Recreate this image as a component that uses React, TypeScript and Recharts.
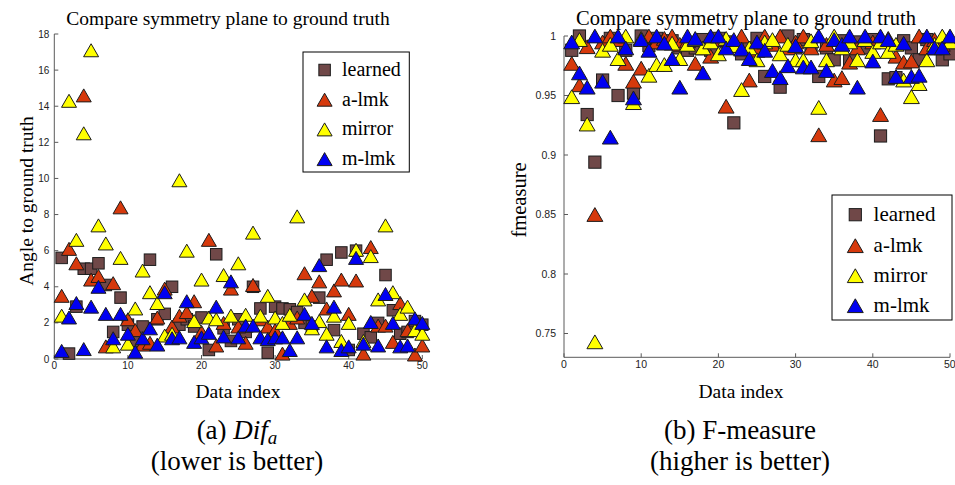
import React from 'react';
import { ScatterChart, Scatter, XAxis, YAxis } from 'recharts';

const dataIndex = [
  1, 2, 3, 4, 5, 6, 7, 8, 9, 10, 11, 12, 13, 14, 15, 16, 17, 18, 19, 20, 21, 22, 23, 24, 25,
  26, 27, 28, 29, 30, 31, 32, 33, 34, 35, 36, 37, 38, 39, 40, 41, 42, 43, 44, 45, 46, 47, 48, 49, 50,
];

const seriesNames = ['learned', 'a-lmk', 'mirror', 'm-lmk'];

// (a) angle to ground truth
const angleLearned = [
  5.6, 0.3, 2.9, 5.0, 5.0, 5.3, 4.1, 1.5, 3.4, 1.9, 1.0, 1.8, 5.5, 2.2, 2.5, 4.0, 1.9, 2.2, 1.8, 2.3, 0.5, 5.8, 1.7, 1.0, 2.2,
  1.5, 4.0, 2.8, 0.35, 2.9, 2.8, 2.75, 2.6, 2.0, 1.8, 3.4, 5.5, 1.6, 5.9, 0.5, 6.0, 1.4, 1.2, 2.0, 4.65, 2.7, 1.4, 1.5, 2.1, 1.9,
];
const angleALmk = [
  3.5, 6.1, 5.3, 14.6, 4.4, 4.6, 0.7, 4.2, 8.4, 2.2, 1.6, 0.8, 0.9, 2.3, 3.9, 1.8, 2.4, 2.6, 3.2, 1.5, 6.6, 0.75, 2.0, 3.9, 1.8,
  0.9, 4.1, 2.2, 1.8, 1.6, 0.3, 2.0, 2.3, 4.75, 3.5, 4.3, 2.8, 3.8, 4.4, 2.5, 4.35, 0.3, 6.2, 1.85, 1.85, 0.95, 3.1, 1.6, 0.25, 0.75,
];
const angleMirror = [
  2.4, 14.3, 6.6, 12.5, 17.1, 7.4, 6.4, 0.7, 5.6, 0.85, 2.8, 4.9, 3.7, 3.1, 1.3, 1.4, 9.9, 6.0, 2.1, 4.4, 2.3, 2.2, 4.65, 2.4, 5.3,
  2.45, 7.0, 2.4, 3.5, 2.3, 2.0, 2.45, 7.9, 3.3, 1.7, 2.1, 1.4, 2.4, 1.0, 2.0, 6.05, 1.0, 5.7, 3.3, 7.4, 3.7, 2.5, 2.9, 1.6, 1.4,
];
const angleMLmk = [
  0.45, 2.3, 3.1, 0.55, 2.9, 4.0, 2.5, 1.15, 2.5, 1.4, 0.4, 1.15, 1.7, 0.8, 3.7, 1.15, 1.2, 3.2, 0.95, 1.2, 1.45, 2.9, 1.25, 4.3, 1.2,
  1.85, 1.85, 1.2, 1.1, 1.2, 1.2, 0.5, 1.2, 2.5, 2.0, 5.2, 0.7, 2.9, 0.5, 0.7, 5.6, 0.85, 2.05, 0.75, 3.6, 2.0, 0.7, 0.75, 2.25, 2.0,
];

// (b) F-measure
const fmLearned = [
  0.988, 1.0, 0.934, 0.894, 0.963, 0.998, 0.95, 0.988, 0.952, 1.0, 0.992, 0.998, 0.995, 0.996, 0.99, 0.988, 0.99, 0.997, 0.988, 0.998,
  0.995, 0.927, 0.985, 0.99, 0.998, 0.966, 0.994, 0.957, 1.0, 0.99, 0.997, 0.992, 0.966, 0.99, 0.98, 0.996, 0.98, 0.995, 0.99, 0.997,
  0.916, 0.964, 0.965, 0.996, 0.99, 0.98, 0.997, 0.992, 0.98, 0.985,
];
const fmALmk = [
  0.977, 0.959, 0.991, 0.85, 0.995, 1.0, 0.997, 0.977, 0.962, 0.973, 1.0, 0.995, 0.998, 1.0, 0.993, 0.996, 0.977, 0.99, 0.983, 0.997,
  0.941, 0.995, 1.0, 0.963, 0.988, 1.0, 0.993, 1.0, 0.99, 0.995, 1.0, 0.99, 0.917, 0.993, 0.963, 0.965, 0.978, 0.99, 0.997, 0.995,
  0.934, 0.998, 0.983, 0.978, 0.979, 1.0, 0.99, 0.997, 0.993, 0.996,
];
const fmMirror = [
  0.949, 0.997, 0.926, 0.743, 0.988, 0.993, 0.981, 1.0, 0.944, 0.998, 0.967, 0.976, 0.976, 0.994, 0.981, 0.993, 0.997, 0.99, 0.995, 0.985,
  0.998, 0.992, 0.955, 0.99, 0.98, 0.995, 0.997, 0.985, 0.993, 0.98, 0.98, 0.996, 0.94, 0.98, 1.0, 0.99, 0.995, 0.98, 0.997, 0.987,
  0.995, 0.987, 0.993, 0.963, 0.949, 0.96, 0.98, 0.993, 1.0, 0.995,
];
const fmMLmk = [
  0.995, 0.969, 0.957, 1.0, 0.962, 0.915, 1.0, 0.99, 0.948, 0.997, 0.988, 1.0, 0.994, 0.981, 0.957, 1.0, 0.998, 0.969, 1.0, 1.0,
  0.99, 0.997, 0.989, 0.981, 0.995, 0.988, 0.971, 0.965, 0.975, 0.992, 0.974, 0.974, 1.0, 0.971, 0.997, 0.993, 1.0, 0.957, 1.0, 0.979,
  1.0, 0.997, 0.966, 0.994, 0.966, 0.967, 1.0, 0.99, 0.99, 1.0,
];

const xTicks = [0, 10, 20, 30, 40, 50];
const angleTicks = [0, 2, 4, 6, 8, 10, 12, 14, 16, 18];
const fmTicks = [0.75, 0.8, 0.85, 0.9, 0.95, 1];

const COLORS = ['#704848', '#d6390c', '#ffff00', '#0000f2'];
const SHAPES = ['square', 'triangle', 'triangle', 'triangle'];
const EDGE = '#1c1c1c';
const AXIS = '#5a5a5a';
const SERIF = '"Liberation Serif", "Times New Roman", serif';
const SANS = '"Liberation Sans", Arial, sans-serif';

const toPoints = (values: number[]) => values.map((v, i) => ({ x: dataIndex[i], y: v }));

const makeShape = (kind: string, fill: string, scale: number) => (props: any) => {
  const { cx, cy } = props;
  if (cx == null || cy == null) return <g />;
  if (kind === 'square') {
    const s = 11.5 * scale;
    return <rect x={cx - s / 2} y={cy - s / 2} width={s} height={s} fill={fill} stroke={EDGE} strokeWidth={1} />;
  }
  const w = 7.5 * scale;
  const h = 6.5 * scale;
  return (
    <polygon
      points={`${cx},${cy - h} ${cx - w},${cy + h} ${cx + w},${cy + h}`}
      fill={fill}
      stroke={EDGE}
      strokeWidth={1}
      strokeLinejoin="miter"
    />
  );
};

const Text = ({ x, baseline, size, children, italic }: any) => (
  <div
    style={{
      position: 'absolute',
      left: x,
      top: baseline - 0.8375 * size,
      transform: 'translateX(-50%)',
      fontFamily: SERIF,
      fontSize: size,
      lineHeight: `${size}px`,
      whiteSpace: 'nowrap',
      color: '#000',
      fontStyle: italic ? 'italic' : 'normal',
    }}
  >
    {children}
  </div>
);

const VText = ({ cx, cy, size, children }: any) => (
  <div
    style={{
      position: 'absolute',
      left: cx,
      top: cy,
      transform: 'translate(-50%, -50%) rotate(-90deg)',
      fontFamily: SERIF,
      fontSize: size,
      lineHeight: `${size}px`,
      whiteSpace: 'nowrap',
      color: '#000',
    }}
  >
    {children}
  </div>
);

const LegendBox = ({ left, top, width, height, markX, textX, rows, size, scale }: any) => (
  <svg width={width + 2} height={height + 2} style={{ position: 'absolute', left: left - 1, top: top - 1 }}>
    <rect x={1} y={1} width={width} height={height} fill="#fff" stroke="#000" strokeWidth={1} />
    {seriesNames.map((name, i) => {
      const Shape = makeShape(SHAPES[i], COLORS[i], scale);
      return (
        <g key={name}>
          <Shape cx={markX + 1} cy={rows[i] - 6 + 1} />
          <text x={textX + 1} y={rows[i] + 1} fontFamily={SERIF} fontSize={size} fill="#000">
            {name}
          </text>
        </g>
      );
    })}
  </svg>
);

const tickStyle = (size: number) => ({ fontSize: size, fill: '#222', fontFamily: SANS });

const Panel = ({ series, yDomain, yTicks, width, height, margin, yMargin, tickFont, scale }: any) => (
  <ScatterChart width={width} height={height} margin={margin}>
    <XAxis
      xAxisId="b"
      type="number"
      dataKey="x"
      domain={[0, 50]}
      ticks={xTicks}
      height={20}
      tickSize={-4}
      tickMargin={7}
      axisLine={{ stroke: AXIS }}
      tickLine={{ stroke: AXIS }}
      tick={tickStyle(tickFont)}
    />
    <XAxis
      xAxisId="t"
      orientation="top"
      type="number"
      domain={[0, 50]}
      ticks={xTicks}
      height={0}
      tickSize={-4}
      axisLine={{ stroke: AXIS }}
      tickLine={{ stroke: AXIS }}
      tick={false}
    />
    <YAxis
      yAxisId="l"
      type="number"
      dataKey="y"
      domain={yDomain}
      ticks={yTicks}
      width={40}
      tickSize={-4}
      tickMargin={yMargin}
      axisLine={{ stroke: AXIS }}
      tickLine={{ stroke: AXIS }}
      tick={tickStyle(tickFont)}
    />
    <YAxis
      yAxisId="r"
      orientation="right"
      type="number"
      domain={yDomain}
      ticks={yTicks}
      width={0}
      tickSize={-4}
      axisLine={{ stroke: AXIS }}
      tickLine={{ stroke: AXIS }}
      tick={false}
    />
    {series.map((values: number[], i: number) => (
      <Scatter
        key={seriesNames[i]}
        name={seriesNames[i]}
        xAxisId="b"
        yAxisId="l"
        data={toPoints(values)}
        shape={makeShape(SHAPES[i], COLORS[i], scale)}
        isAnimationActive={false}
      />
    ))}
  </ScatterChart>
);

export default function App() {
  return (
    <div style={{ position: 'absolute', left: 0, top: 0, width: 955, height: 485, background: '#fff', overflow: 'hidden' }}>
      <Text x={228} baseline={25} size={19.5}>Compare symmetry plane to ground truth</Text>
      <Text x={746} baseline={25} size={20.5}>Compare symmetry plane to ground truth</Text>
      <VText cx={26.5} cy={201} size={19.5}>Angle to ground truth</VText>
      <VText cx={518.6} cy={199.5} size={20.5}>fmeasure</VText>

      <div style={{ position: 'absolute', left: 0, top: 0 }}>
        <Panel
          series={[angleLearned, angleALmk, angleMirror, angleMLmk]}
          yDomain={[0, 18]}
          yTicks={angleTicks}
          width={440}
          height={400}
          margin={{ top: 34, right: 17.7, bottom: 21, left: 14.3 }}
          yMargin={9}
          tickFont={10}
          scale={1}
        />
      </div>
      <div style={{ position: 'absolute', left: 480, top: 0 }}>
        <Panel
          series={[fmLearned, fmALmk, fmMirror, fmMLmk]}
          yDomain={[0.73, 1]}
          yTicks={fmTicks}
          width={475}
          height={400}
          margin={{ top: 36, right: 5, bottom: 22.7, left: 44 }}
          yMargin={12}
          tickFont={10.5}
          scale={1.06}
        />
      </div>

      <LegendBox left={302.7} top={52} width={106.3} height={120} markX={21.6} textX={39} rows={[24, 53.7, 83.4, 113.1]} size={20} scale={1} />
      <LegendBox left={831.7} top={195} width={120} height={125} markX={23.3} textX={41.6} rows={[25.7, 56.7, 86.7, 116.7]} size={21} scale={1.06} />

      <Text x={238} baseline={398} size={19.5}>Data index</Text>
      <Text x={741} baseline={398} size={19.5}>Data index</Text>

      <Text x={237} baseline={440} size={27}>
        (a) <span style={{ fontStyle: 'italic' }}>Dif</span>
        <span style={{ fontStyle: 'italic', fontSize: 19, position: 'relative', top: 5 }}>a</span>
      </Text>
      <Text x={237} baseline={471} size={27}>(lower is better)</Text>
      <Text x={740} baseline={440} size={27}>(b) F-measure</Text>
      <Text x={740} baseline={471} size={27}>(higher is better)</Text>
    </div>
  );
}
